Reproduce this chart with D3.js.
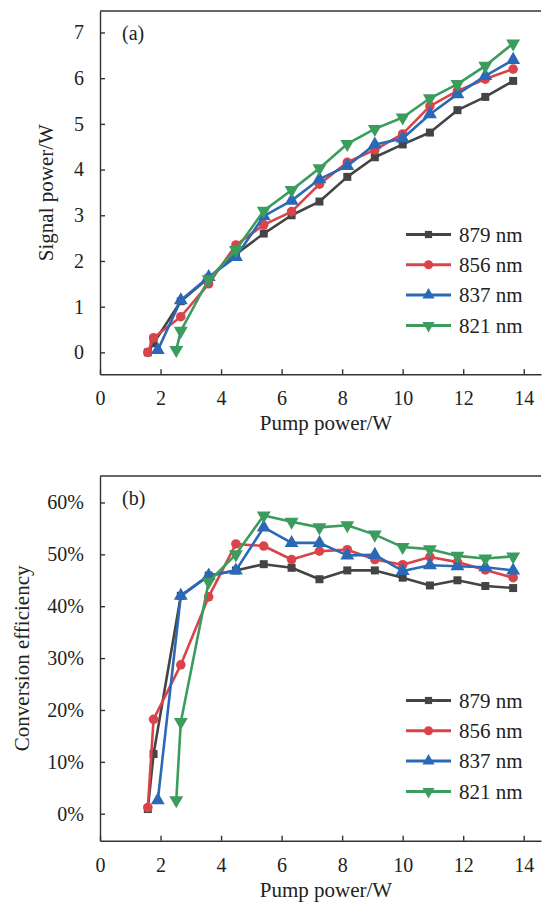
<!DOCTYPE html>
<html lang="en">
<head>
<meta charset="utf-8">
<title>Signal power and conversion efficiency</title>
<script src="https://d3js.org/d3.v7.min.js"></script>
<style>
  html, body { margin: 0; padding: 0; background: #fff; }
  svg text { font-family: "Liberation Serif", "Times New Roman", serif; fill: #222; }
  .axis path, .axis line { stroke: #333; stroke-width: 1.4px; }
</style>
</head>
<body>
<div id="chart"></div>
<script>
// pump power (W) of each measurement, shared by all series; null = no point
var pump = [1.58, 1.77, 1.91, 2.52, 2.67, 3.59, 4.49, 5.41, 6.33, 7.25, 8.17, 9.08, 10.0, 10.9, 11.81, 12.73, 13.65];

var labels = ["879 nm", "856 nm", "837 nm", "821 nm"];
var colors = ["#444444", "#d9444b", "#2b69b6", "#3c9c5e"];
var shapes = [d3.symbolSquare, d3.symbolCircle, d3.symbolTriangle, d3.symbolTriangle];

// (a) signal power, W
var signal879 = [0.0, 0.2, null, null, 1.12, 1.63, 2.15, 2.6, 3.0, 3.3, 3.84, 4.27, 4.55, 4.81, 5.3, 5.59, 5.94];
var signal856 = [0.0, 0.32, null, null, 0.78, 1.5, 2.35, 2.79, 3.08, 3.68, 4.16, 4.43, 4.78, 5.39, 5.72, 5.98, 6.2];
var signal837 = [null, null, 0.05, null, 1.14, 1.65, 2.09, 2.98, 3.32, 3.79, 4.08, 4.55, 4.68, 5.21, 5.65, 6.05, 6.4];
var signal821 = [null, null, null, 0.05, 0.47, 1.6, 2.24, 3.1, 3.55, 4.03, 4.56, 4.89, 5.14, 5.56, 5.87, 6.27, 6.76];

// (b) conversion efficiency, %
var eff879 = [0.9, 11.5, null, null, 42.0, 45.9, 46.9, 48.1, 47.4, 45.2, 46.9, 46.9, 45.5, 44.0, 45.0, 43.9, 43.5];
var eff856 = [1.2, 18.2, null, null, 28.7, 41.8, 52.0, 51.6, 49.0, 50.6, 50.9, 49.0, 48.0, 49.5, 48.5, 47.0, 45.5];
var eff837 = [null, null, 2.6, null, 42.0, 45.9, 46.9, 55.2, 52.2, 52.2, 49.8, 49.9, 46.8, 47.9, 47.7, 47.5, 46.9];
var eff821 = [null, null, null, 2.6, 17.7, 44.7, 50.0, 57.5, 56.3, 55.2, 55.6, 53.8, 51.4, 51.0, 49.7, 49.2, 49.6];

var xTicks = [0, 2, 4, 6, 8, 10, 12, 14];
var signalTicks = [0, 1, 2, 3, 4, 5, 6, 7];
var effTicks = [0, 10, 20, 30, 40, 50, 60];

var w = 542, h = 904;

var svg = d3.select("#chart").append("svg")
  .attr("width", w)
  .attr("height", h);

var x = d3.scaleLinear().domain([0, 14.57]).range([100, 541]);

function panel(opt) {
  var y = d3.scaleLinear().domain(opt.domain).range([opt.bottom, opt.top]);
  var g = svg.append("g");

  // top frame line
  g.append("line")
    .attr("x1", 100).attr("x2", 541)
    .attr("y1", opt.top).attr("y2", opt.top)
    .attr("stroke", "#333").attr("stroke-width", 1.4);

  var xAxis = g.append("g")
    .attr("class", "axis")
    .attr("transform", "translate(0," + opt.bottom + ")")
    .call(d3.axisBottom(x).tickValues(xTicks).tickSize(-5).tickSizeOuter(0).tickPadding(17));
  xAxis.selectAll("text").style("font-size", "20px");

  var yAxis = g.append("g")
    .attr("class", "axis")
    .attr("transform", "translate(100,0)")
    .call(d3.axisLeft(y).tickValues(opt.ticks).tickFormat(opt.fmt).tickSize(-5).tickSizeOuter(0).tickPadding(16));
  yAxis.selectAll("text").style("font-size", "20px");

  // axis titles
  g.append("text")
    .attr("x", 326).attr("y", opt.bottom + 56)
    .attr("text-anchor", "middle")
    .style("font-size", "21px")
    .text("Pump power/W");

  g.append("text")
    .attr("transform", "translate(" + opt.titleX + "," + ((opt.top + opt.bottom) / 2) + ") rotate(-90)")
    .attr("text-anchor", "middle")
    .attr("dy", "0.35em")
    .style("font-size", "21px")
    .text(opt.title);

  g.append("text")
    .attr("x", 122).attr("y", opt.top + 22)
    .attr("dy", "0.35em")
    .style("font-size", "20px")
    .text(opt.tag);

  var line = d3.line()
    .defined(function(d) { return d[1] != null; })
    .x(function(d) { return x(d[0]); })
    .y(function(d) { return y(d[1]); });

  opt.series.forEach(function(vals, i) {
    var pts = pump.map(function(p, j) { return [p, vals[j]]; })
      .filter(function(d) { return d[1] != null; });

    g.append("path")
      .datum(pts)
      .attr("fill", "none")
      .attr("stroke", colors[i])
      .attr("stroke-width", 2.6)
      .attr("stroke-linejoin", "round")
      .attr("d", line);

    g.selectAll(".m" + i)
      .data(pts)
      .enter()
      .append("path")
      .attr("class", "m" + i)
      .attr("d", d3.symbol().type(shapes[i]).size(i == 1 ? 72 : i == 0 ? 64 : 84))
      .attr("transform", function(d) {
        return "translate(" + x(d[0]) + "," + y(d[1]) + ")" + (i == 3 ? " rotate(180)" : "");
      })
      .attr("fill", colors[i]);
  });

  // legend
  labels.forEach(function(lab, i) {
    var ly = opt.legendY + i * 30.3;
    g.append("line")
      .attr("x1", 406).attr("x2", 451)
      .attr("y1", ly).attr("y2", ly)
      .attr("stroke", colors[i]).attr("stroke-width", 3);
    g.append("path")
      .attr("d", d3.symbol().type(shapes[i]).size(i == 1 ? 64 : i == 0 ? 52 : 64))
      .attr("transform", "translate(428.5," + ly + ")" + (i == 3 ? " rotate(180)" : ""))
      .attr("fill", colors[i]);
    g.append("text")
      .attr("x", 459).attr("y", ly)
      .attr("dy", "0.35em")
      .style("font-size", "21px")
      .text(lab);
  });
}

panel({
  top: 11, bottom: 374.3, domain: [-0.48, 7.47],
  ticks: signalTicks, fmt: function(d) { return d; },
  title: "Signal power/W", titleX: 46, tag: "(a)", legendY: 234.5,
  series: [signal879, signal856, signal837, signal821]
});

panel({
  top: 476, bottom: 840.7, domain: [-5.2, 65.1],
  ticks: effTicks, fmt: function(d) { return d + "%"; },
  title: "Conversion efficiency", titleX: 22, tag: "(b)", legendY: 700.5,
  series: [eff879, eff856, eff837, eff821]
});
</script>
</body>
</html>
